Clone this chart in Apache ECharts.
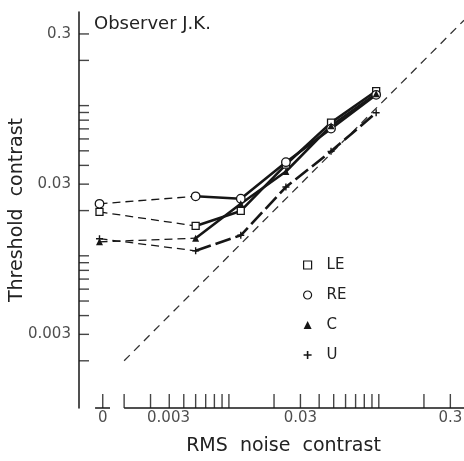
<!DOCTYPE html>
<html><head><meta charset="utf-8">
<script src="https://cdn.jsdelivr.net/npm/echarts@6/dist/echarts.min.js"></script>
<style>html,body{margin:0;padding:0;background:#fff}#c{width:464px;height:461px}</style>
</head><body><div id="c"></div>
<script>
// ---- data ----
const noiseLevels = [0, 0.006, 0.012, 0.024, 0.048, 0.096];
const thresholdLE = [0.0196, 0.0158, 0.0199, 0.0405, 0.077, 0.125];
const thresholdRE = [0.0222, 0.0249, 0.0240, 0.0420, 0.0703, 0.118];
const thresholdC  = [0.0124, 0.0131, 0.0222, 0.0364, 0.0735, 0.120];
const thresholdU  = [0.0130, 0.0108, 0.0137, 0.0287, 0.0496, 0.0897];
const identityLine = [0.002, 0.37];
const xTickValues = [0.002,0.003,0.004,0.005,0.006,0.007,0.008,0.009,0.01,0.02,0.03,0.04,0.05,0.06,0.07,0.08,0.09,0.1,0.2,0.3];
const xLabelValues = [0.003, 0.03, 0.3];
const xLabelTexts = ['0.003', '0.03', '0.3'];
const yTickValues = [0.002,0.003,0.004,0.005,0.006,0.007,0.008,0.009,0.01,0.02,0.03,0.04,0.05,0.06,0.07,0.08,0.09,0.1,0.2,0.3];
const yLabelValues = [0.003, 0.03, 0.3];
const yLabelTexts = ['0.003', '0.03', '0.3'];

// ---- layout (axis extents and the broken "0" column) ----
const X_MIN = 0.001, X_MAX = 0.37, Y_MIN = 0.00097, Y_MAX = 0.42;
const AXIS_START = 0.002;          // main x axis begins here
const ZERO_POS = 0.00137;          // where x = 0 is drawn on the broken axis
const ZERO_TICK = 0.00144;
const ZERO_STUB = [0.00128, 0.00161];
const FONT = 'DejaVu Sans';
const INK = '#161616';
const PLUS = 'path://M4,0H6V10H4ZM0,4H10V6H0Z';

const xPos = v => (v === 0 ? ZERO_POS : v);

const groups = [
  {name: 'LE', vals: thresholdLE, symbol: 'rect', size: 7, fill: '#fff', border: 1.3, main: 'solid'},
  {name: 'RE', vals: thresholdRE, symbol: 'circle', size: 8.5, fill: '#fff', border: 1.3, main: 'solid'},
  {name: 'C', vals: thresholdC, symbol: 'triangle', size: 7, fill: INK, border: 0, main: 'solid'},
  {name: 'U', vals: thresholdU, symbol: PLUS, size: 7, fill: INK, border: 0, main: [16, 5]}
];

const series = [];
groups.forEach(g => {
  series.push({
    type: 'line', name: g.name, z: 4,
    data: noiseLevels.slice(1).map((x, i) => [x, g.vals[i + 1]]),
    symbol: g.symbol, symbolSize: g.size,
    itemStyle: {color: g.fill, borderColor: INK, borderWidth: g.border},
    lineStyle: {color: INK, width: 2.6, type: g.main},
    clip: false
  });
  series.push({
    type: 'line', name: g.name, z: 3,
    data: [
      {value: [xPos(noiseLevels[0]), g.vals[0]]},
      {value: [noiseLevels[1], g.vals[1]], symbol: 'none'}
    ],
    symbol: g.symbol, symbolSize: g.size,
    itemStyle: {color: g.fill, borderColor: INK, borderWidth: g.border},
    lineStyle: {color: INK, width: 1.3, type: [8, 5]},
    clip: false
  });
});

// identity (y = x) dashed line
series.push({
  type: 'line', silent: true, z: 2, symbol: 'none',
  data: identityLine.map(v => [v, v]),
  lineStyle: {color: '#333', width: 1.3, type: [8, 6]}
});

// x axis line (broken) and ticks
series.push({
  type: 'line', silent: true, symbol: 'none', clip: false, z: 5,
  data: [[AXIS_START, Y_MIN], [X_MAX, Y_MIN]],
  lineStyle: {color: INK, width: 1.5}
});
series.push({
  type: 'line', silent: true, symbol: 'none', clip: false, z: 5,
  data: [[ZERO_STUB[0], Y_MIN], [ZERO_STUB[1], Y_MIN]],
  lineStyle: {color: INK, width: 1.5}
});
series.push({
  type: 'scatter', silent: true, clip: false, z: 5,
  data: xTickValues.concat([ZERO_TICK]).map(v => [v, Y_MIN]),
  symbol: 'rect', symbolSize: [1.4, 14], symbolOffset: [0, -7],
  itemStyle: {color: INK}
});
// y ticks (pointing inward)
series.push({
  type: 'scatter', silent: true, clip: false, z: 5,
  data: yTickValues.map(v => [X_MIN, v]),
  symbol: 'rect', symbolSize: [10, 1.4], symbolOffset: [5, 0],
  itemStyle: {color: INK}
});
// x tick labels
const xLabelData = xLabelValues.map((v, i) => ({
  value: [v, Y_MIN], name: xLabelTexts[i],
  label: i === 0 ? {offset: [18, 0]} : {}
}));
xLabelData.push({value: [ZERO_TICK, Y_MIN], name: '0'});
series.push({
  type: 'scatter', silent: true, clip: false, z: 5,
  data: xLabelData, symbolSize: 0.1, itemStyle: {color: 'rgba(0,0,0,0)'},
  label: {show: true, position: 'bottom', distance: 3, formatter: '{b}',
          color: '#222', fontFamily: FONT, fontSize: 15}
});
// y tick labels
series.push({
  type: 'scatter', silent: true, clip: false, z: 5,
  data: yLabelValues.map((v, i) => ({value: [X_MIN, v], name: yLabelTexts[i]})),
  symbolSize: 0.1, itemStyle: {color: 'rgba(0,0,0,0)'},
  label: {show: true, position: 'left', distance: 8, formatter: '{b}',
          color: '#222', fontFamily: FONT, fontSize: 15}
});

const chart = echarts.init(document.getElementById('c'), null, {renderer: 'canvas'});
chart.setOption({
  animation: false,
  backgroundColor: '#fff',
  title: {
    text: 'Observer J.K.', left: 89, top: 10,
    textStyle: {fontFamily: FONT, fontSize: 18, fontWeight: 'normal', color: '#222'}
  },
  legend: {
    orient: 'vertical', left: 298, top: 252, itemWidth: 8, itemHeight: 8, itemGap: 14,
    selectedMode: false,
    textStyle: {fontFamily: FONT, fontSize: 15, color: '#222', lineHeight: 16, padding: [0, 0, 0, 10]},
    data: [
      {name: 'LE', icon: 'rect', itemStyle: {color: '#fff', borderColor: INK, borderWidth: 1.2}},
      {name: 'RE', icon: 'circle', itemStyle: {color: '#fff', borderColor: INK, borderWidth: 1.2}},
      {name: 'C', icon: 'triangle', itemStyle: {color: INK, borderWidth: 0}},
      {name: 'U', icon: PLUS, itemStyle: {color: INK, borderWidth: 0}}
    ]
  },
  grid: {left: 79, right: 0, top: 12, bottom: 49, containLabel: false},
  xAxis: {
    type: 'log', logBase: 10, min: X_MIN, max: X_MAX,
    axisLine: {show: false}, axisTick: {show: false}, axisLabel: {show: false}, splitLine: {show: false},
    name: 'RMS  noise  contrast', nameLocation: 'middle', nameGap: 29,
    nameTextStyle: {fontFamily: FONT, fontSize: 19, color: '#222', padding: [0, 0, 0, 24]}
  },
  yAxis: {
    type: 'log', logBase: 10, min: Y_MIN, max: Y_MAX,
    axisLine: {show: true, onZero: false, lineStyle: {color: INK, width: 1.5}},
    axisTick: {show: false}, axisLabel: {show: false}, splitLine: {show: false},
    name: 'Threshold  contrast', nameLocation: 'middle', nameGap: 52,
    nameTextStyle: {fontFamily: FONT, fontSize: 19, color: '#222'}
  },
  series: series
});
</script></body></html>
